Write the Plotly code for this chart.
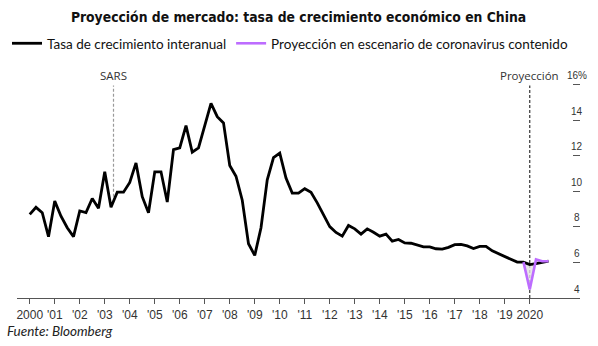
import plotly.graph_objects as go

# Quarterly year-on-year GDP growth, China, 2000Q1 - 2020Q4 (%)
growth = [
    8.70, 9.10, 8.80, 7.45,    # 2000
    9.45, 8.60, 7.95, 7.45,    # 2001
    8.90, 8.80, 9.60, 9.05,    # 2002
    11.10, 9.10, 9.95, 9.95,   # 2003
    10.50, 11.60, 9.70, 8.80,  # 2004
    11.10, 11.10, 9.40, 12.35, # 2005
    12.45, 13.70, 12.20, 12.45,# 2006
    13.70, 14.95, 14.20, 13.85,# 2007
    11.45, 10.85, 9.50, 7.05,  # 2008
    6.40, 7.95, 10.65, 11.90,  # 2009
    12.15, 10.75, 9.90, 9.90,  # 2010
    10.15, 9.95, 9.35, 8.70,   # 2011
    8.02, 7.69, 7.48, 8.08,    # 2012
    7.89, 7.59, 7.89, 7.70,    # 2013
    7.48, 7.59, 7.20, 7.29,    # 2014
    7.10, 7.08, 6.97, 6.88,    # 2015
    6.88, 6.77, 6.75, 6.85,    # 2016
    7.00, 7.01, 6.93, 6.78,    # 2017
    6.90, 6.90, 6.65, 6.50,    # 2018
    6.35, 6.20, 6.02, 6.02,    # 2019
    5.88, 5.94, 6.00, 6.07,    # 2020
]
quarters = [2000 + i / 4 for i in range(len(growth))]

# Contained-coronavirus scenario, 2019Q4 - 2020Q4 (%)
scenario = [6.02, 4.48, 6.17, 6.07, 6.07]
scenario_x = quarters[-len(scenario):]
baseline_same_span = growth[-len(scenario):]

# Axis ticks
year_ticks = list(range(2000, 2021))
year_labels = ["2000"] + ["'%02d" % (y % 100) for y in range(2001, 2020)] + ["2020"]
y_ticks = [4, 6, 8, 10, 12, 14, 16]
y_labels = ["4", "6", "8", "10", "12", "14", "16%"]

# Event markers
event_names = ["SARS", "Proyección"]
event_x = [2003.35, 2020.0]
event_low = [9.7, 4.0]
event_colors = ["#9a9a9a", "#333333"]

BLACK = "#000000"
PURPLE = "#bd6cff"
CONDENSED = "DejaVu Sans Condensed, Roboto Condensed, Roboto"

fig = go.Figure()

# lower edge of the shaded gap (hidden)
fig.add_trace(go.Scatter(
    x=scenario_x, y=baseline_same_span, mode="lines",
    line=dict(width=0, color=BLACK), showlegend=False, hoverinfo="skip"))
# shaded gap between baseline and scenario
fig.add_trace(go.Scatter(
    x=scenario_x, y=scenario, mode="lines", fill="tonexty",
    fillcolor="rgba(225,225,225,0.8)", line=dict(width=0, color=PURPLE),
    showlegend=False, hoverinfo="skip"))

fig.add_trace(go.Scatter(
    x=quarters, y=growth, mode="lines", name="Tasa de crecimiento interanual",
    line=dict(color=BLACK, width=2.8)))
fig.add_trace(go.Scatter(
    x=scenario_x, y=scenario, mode="lines",
    name="Proyección en escenario de coronavirus contenido",
    line=dict(color=PURPLE, width=2.6)))

# dashed event lines with labels
for name, ex, lo, col in zip(event_names, event_x, event_low, event_colors):
    fig.add_shape(type="line", xref="x", yref="y", x0=ex, x1=ex, y0=lo, y1=15.95,
                  line=dict(color=col, width=1.2, dash="3px,2px"), layer="below")
    fig.add_annotation(x=ex, y=16, xref="x", yref="y", text=name, showarrow=False,
                       yshift=9, font=dict(family="Open Sans", size=11.5, color="#333333"))

# value labels above the right-hand tick dashes
for v, lab in zip(y_ticks, y_labels):
    fig.add_annotation(x=1.0, xref="paper", y=v, yref="y", text=lab, showarrow=False,
                       xanchor="center", yanchor="middle", xshift=-3.5, yshift=9,
                       font=dict(family="Liberation Sans", size=10, color="#333333"))

fig.add_annotation(x=-0.0213, y=-0.147, xref="paper", yref="paper",
                   text="<i>Fuente: Bloomberg</i>", showarrow=False,
                   xanchor="left", yanchor="middle",
                   font=dict(family="Lato", size=13.5, color="#222222"))

fig.update_layout(
    width=598, height=346,
    margin=dict(l=17, r=18, t=74, b=48),
    paper_bgcolor="white", plot_bgcolor="white",
    title=dict(text="<b>Proyección de mercado: tasa de crecimiento económico en China</b>",
               x=0.5, xref="paper", y=1 - 17 / 346, yref="container",
               xanchor="center", yanchor="middle",
               font=dict(family=CONDENSED, size=13.8, color="#111111")),
    legend=dict(orientation="h", xref="container", yref="container",
                x=7 / 598, y=1 - 28 / 346, xanchor="left", yanchor="top",
                traceorder="normal",
                font=dict(family="Lato", size=13.5, color="#111111"),
                itemwidth=30, tracegroupgap=0, bgcolor="rgba(0,0,0,0)"),
    showlegend=True,
    xaxis=dict(range=[1999.49, 2022.01], tickvals=year_ticks, ticktext=year_labels,
               showgrid=False, zeroline=False, showline=True, linecolor="#555555",
               linewidth=1.2, ticks="outside", ticklen=5, tickcolor="#555555",
               tickfont=dict(family="Liberation Sans", size=12, color="#333333")),
    yaxis=dict(range=[4, 16.6], tickvals=y_ticks, side="right", ticks="inside",
               ticklen=7, tickcolor="#555555", tickwidth=1, showticklabels=False,
               showgrid=False, zeroline=False, showline=False),
)

fig.write_html("out.html")
